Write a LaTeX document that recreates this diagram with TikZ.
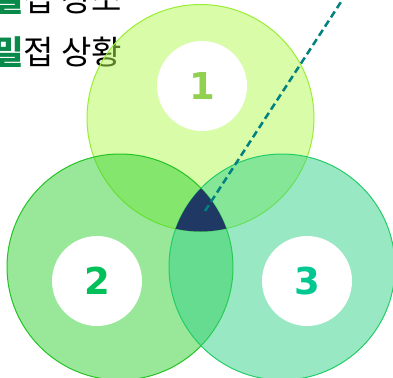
\documentclass[tikz,border=0pt]{standalone}
\usepackage{fontspec}
\newfontfamily\kr{Noto Sans CJK KR}
\newfontfamily\numfont{DejaVu Sans}
\definecolor{cA}{HTML}{B1F951}
\definecolor{cAe}{HTML}{99EE33}
\definecolor{cB}{HTML}{33D133}
\definecolor{cBe}{HTML}{22C322}
\definecolor{cC}{HTML}{33D189}
\definecolor{cCe}{HTML}{22CC66}
\definecolor{navy}{HTML}{1F3864}
\definecolor{teal2}{HTML}{00807F}
\definecolor{nA}{HTML}{92D050}
\definecolor{nB}{HTML}{00C05A}
\definecolor{nC}{HTML}{00C890}
\definecolor{kgreen}{HTML}{0A8A4A}
\tikzset{
  bigcircle/.style={fill opacity=0.5, line width=1pt},
  inner/.style={circle, fill=white, minimum size=90pt, inner sep=0pt, font=\numfont\bfseries\fontsize{37}{40}\selectfont},
  krtext/.style={anchor=base west, inner sep=0pt, font=\kr\fontsize{33}{36}\selectfont},
  dashline/.style={teal2, line width=2.5pt, dash pattern=on 7pt off 4pt}
}
\begin{document}
\begin{tikzpicture}[x=1pt,y=-1pt]
\useasboundingbox (0,0) rectangle (393,377);
\node[krtext] (t1) at (-7,12) {\textcolor{kgreen}{\bfseries 밀}접 장소};
\node[krtext] (t2) at (-7,65) {\textcolor{kgreen}{\bfseries 밀}접 상황};
\coordinate (c1) at (200.5,118);
\coordinate (c2) at (120,267);
\coordinate (c3) at (282,267);
\fill[cA, bigcircle] (c1) circle[radius=113.5pt];
\draw[cAe, line width=1pt] (c1) circle[radius=113.5pt];
\fill[cB, bigcircle] (c2) circle[radius=113pt];
\draw[cBe, line width=1pt] (c2) circle[radius=113pt];
\fill[cC, bigcircle] (c3) circle[radius=113pt];
\draw[cCe, line width=1pt] (c3) circle[radius=113pt];
\begin{scope}
  \clip (c1) circle[radius=113.5pt];
  \clip (c2) circle[radius=113pt];
  \fill[navy] (c3) circle[radius=113pt];
\end{scope}
\node[inner, text=nA] (n1) at (202,86) {1};
\node[inner, text=nB] (n2) at (97,281) {2};
\node[inner, text=nC] (n3) at (307,281) {3};
\coordinate (d0) at (205,211);
\coordinate (d1) at (352,-15);
\draw[dashline] (d0) -- (d1);
\end{tikzpicture}
\end{document}
